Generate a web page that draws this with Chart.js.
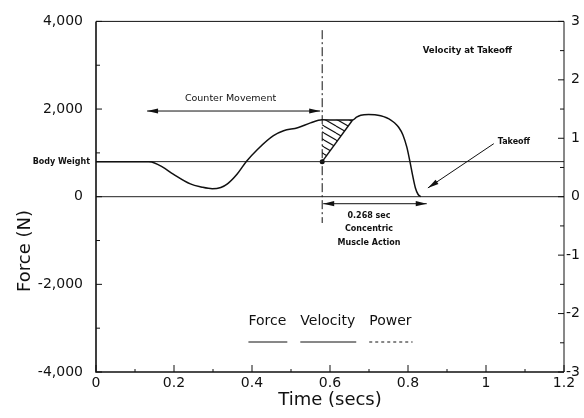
<!DOCTYPE html>
<html>
<head>
<meta charset="utf-8">
<script src="https://cdn.jsdelivr.net/npm/chart.js@4/dist/chart.umd.min.js"></script>
<style>
  html, body { margin: 0; padding: 0; background: #fff; overflow: hidden; }
  #wrap { width: 584px; height: 418px; position: relative; }
</style>
</head>
<body>
<div id="wrap"><canvas id="jump" width="584" height="418"></canvas></div>
<script>
// Countermovement jump: vertical ground reaction force against time
const TIME  = [0, 0.05, 0.10, 0.135, 0.15, 0.17, 0.198, 0.242, 0.27, 0.298, 0.32, 0.337, 0.362, 0.386, 0.414, 0.455, 0.481, 0.517, 0.550, 0.58, 0.62, 0.658, 0.668, 0.679, 0.699, 0.715, 0.730, 0.745, 0.756, 0.766, 0.776, 0.787, 0.797, 0.805, 0.812, 0.819, 0.826, 0.833];
const FORCE = [800, 800, 800, 795, 770, 680, 517, 292, 222, 182, 210, 292, 517, 809, 1079, 1393, 1505, 1573, 1685, 1753, 1748, 1750, 1815, 1860, 1875, 1868, 1845, 1800, 1750, 1680, 1585, 1410, 1130, 800, 480, 200, 50, 0];
const VELOCITY = [];
const POWER = [];

const BODY_WEIGHT = 800;
const CONCENTRIC_START = 0.58;
const CONCENTRIC_DURATION = 0.268;
const TAKEOFF_TIME = 0.833;
const COUNTER_START = 0.131;

// rise of force from body weight at the start of the concentric phase
const DIAG_T = [0.58, 0.658];
const DIAG_F = [800, 1750];

const X_TICK_LABELS = ['0', '0.2', '0.4', '0.6', '0.8', '1', '1.2'];
const LEGEND_ITEMS = ['Force', 'Velocity', 'Power'];

const FONT = '"DejaVu Sans", sans-serif';
const INK = '#111';

const pts = (xs, ys) => xs.map((x, i) => ({ x, y: ys[i] }));

function hatchPattern() {
  const w = 12, h = 7;
  const c = document.createElement('canvas');
  c.width = w; c.height = h;
  const g = c.getContext('2d');
  g.strokeStyle = INK;
  g.lineWidth = 1.1;
  for (const k of [-1, 0, 1]) {
    g.beginPath();
    g.moveTo(0, k * h);
    g.lineTo(w, h + k * h);
    g.stroke();
  }
  return g.createPattern(c, 'repeat');
}

function arrowHead(ctx, x1, y1, x2, y2, len, half) {
  const a = Math.atan2(y2 - y1, x2 - x1);
  const c = Math.cos(a), s = Math.sin(a);
  ctx.beginPath();
  ctx.moveTo(x2, y2);
  ctx.lineTo(x2 - len * c + half * s, y2 - len * s - half * c);
  ctx.lineTo(x2 - len * c - half * s, y2 - len * s + half * c);
  ctx.closePath();
  ctx.fill();
}

function arrow(ctx, x1, y1, x2, y2, both) {
  ctx.beginPath();
  ctx.moveTo(x1, y1);
  ctx.lineTo(x2, y2);
  ctx.stroke();
  arrowHead(ctx, x1, y1, x2, y2, 11, 2.6);
  if (both) arrowHead(ctx, x2, y2, x1, y1, 11, 2.6);
}

// frame, inward tick marks, arrows, notes and legend
const decorations = {
  id: 'decorations',
  afterDatasetsDraw(chart) {
    const { ctx, chartArea: a, scales } = chart;
    const { x, y, y2 } = scales;
    ctx.save();
    ctx.strokeStyle = INK;
    ctx.fillStyle = INK;

    // frame
    ctx.lineWidth = 1;
    ctx.beginPath();
    ctx.moveTo(a.left, a.top); ctx.lineTo(a.right, a.top);
    ctx.moveTo(a.right, a.top); ctx.lineTo(a.right, a.bottom);
    ctx.stroke();
    ctx.lineWidth = 1.6;
    ctx.beginPath();
    ctx.moveTo(a.left, a.top); ctx.lineTo(a.left, a.bottom); ctx.lineTo(a.right, a.bottom);
    ctx.stroke();

    // inward ticks
    ctx.lineWidth = 1;
    ctx.beginPath();
    y.ticks.forEach(t => {
      const p = y.getPixelForValue(t.value);
      const len = t.value % 2000 === 0 ? 6 : 4;
      ctx.moveTo(a.left, p); ctx.lineTo(a.left + len, p);
    });
    y2.ticks.forEach(t => {
      const p = y2.getPixelForValue(t.value);
      const len = Number.isInteger(t.value) ? 6 : 4;
      ctx.moveTo(a.right, p); ctx.lineTo(a.right - len, p);
    });
    x.ticks.forEach(t => {
      const p = x.getPixelForValue(t.value);
      const len = Math.round(t.value * 10) % 2 === 0 ? 7 : 3;
      ctx.moveTo(p, a.bottom); ctx.lineTo(p, a.bottom - len);
    });
    ctx.stroke();

    // body weight label at the left axis
    ctx.font = 'bold 8px ' + FONT;
    ctx.textAlign = 'right';
    ctx.textBaseline = 'middle';
    ctx.fillText('Body Weight', a.left - 6, y.getPixelForValue(BODY_WEIGHT));

    // counter movement arrow
    ctx.lineWidth = 1;
    const cmY = y.getPixelForValue(1955);
    arrow(ctx, x.getPixelForValue(COUNTER_START), cmY, x.getPixelForValue(CONCENTRIC_START) - 2, cmY, true);
    ctx.font = '9.5px ' + FONT;
    ctx.textAlign = 'center';
    ctx.fillText('Counter Movement', x.getPixelForValue(0.345), y.getPixelForValue(2230));

    // concentric duration arrow
    const dY = y.getPixelForValue(-160);
    arrow(ctx, x.getPixelForValue(CONCENTRIC_START + CONCENTRIC_DURATION), dY, x.getPixelForValue(CONCENTRIC_START) + 1, dY, true);
    ctx.font = 'bold 8px ' + FONT;
    const cx = x.getPixelForValue(0.70);
    ctx.fillText(CONCENTRIC_DURATION.toFixed(3) + ' sec', cx, y.getPixelForValue(-450));
    ctx.fillText('Concentric', cx, y.getPixelForValue(-745));
    ctx.fillText('Muscle Action', cx, y.getPixelForValue(-1060));

    // takeoff pointer
    arrow(ctx, x.getPixelForValue(1.02), y.getPixelForValue(1210), x.getPixelForValue(TAKEOFF_TIME + 0.018), y.getPixelForValue(200), false);
    ctx.textAlign = 'left';
    ctx.fillText('Takeoff', x.getPixelForValue(1.03), y.getPixelForValue(1240));
    ctx.textAlign = 'center';
    ctx.font = 'bold 8.6px ' + FONT;
    ctx.fillText('Velocity at Takeoff', x.getPixelForValue(0.952), y.getPixelForValue(3330));

    // legend: label above, line sample below
    ctx.font = '14px ' + FONT;
    const gap = 14;
    const items = LEGEND_ITEMS.map(name => chart.data.datasets.find(d => d.label === name));
    const widths = items.map(d => ctx.measureText(d.label).width);
    const total = widths.reduce((s, w) => s + w, 0) + gap * (items.length - 1);
    let lx = (a.left + a.right) / 2 - total / 2;
    const ty = a.bottom - 51, ly = a.bottom - 30;
    items.forEach((d, i) => {
      ctx.textAlign = 'left';
      ctx.fillText(d.label, lx, ty);
      ctx.save();
      ctx.lineWidth = 1;
      ctx.setLineDash(d.borderDash || []);
      ctx.beginPath();
      ctx.moveTo(lx, ly); ctx.lineTo(lx + widths[i] + 1, ly);
      ctx.stroke();
      ctx.restore();
      lx += widths[i] + gap;
    });

    // y axis title
    ctx.save();
    ctx.translate(25, 251);
    ctx.rotate(-Math.PI / 2);
    ctx.font = '18px ' + FONT;
    ctx.textAlign = 'center';
    ctx.textBaseline = 'middle';
    ctx.fillText('Force (N)', 0, 0);
    ctx.restore();

    ctx.restore();
  }
};

const lineBase = { pointRadius: 0, fill: false, borderColor: INK, tension: 0 };
const noGrid = { display: false, drawTicks: false, tickLength: 0 };

new Chart(document.getElementById('jump'), {
  type: 'line',
  data: {
    datasets: [
      { ...lineBase, label: 'Force', data: pts(TIME, FORCE), borderWidth: 1.5, cubicInterpolationMode: 'monotone' },
      { ...lineBase, label: 'Velocity', yAxisID: 'y2', data: VELOCITY, borderWidth: 1 },
      { ...lineBase, label: 'Power', yAxisID: 'y2', data: POWER, borderWidth: 1, borderDash: [3, 3] },
      { ...lineBase, label: 'Body weight', data: pts([0, 1.2], [BODY_WEIGHT, BODY_WEIGHT]), borderWidth: 1, borderColor: '#222' },
      { ...lineBase, label: 'Zero', data: pts([0, 1.2], [0, 0]), borderWidth: 1, borderColor: '#222' },
      { ...lineBase, label: 'Concentric start', data: pts([CONCENTRIC_START, CONCENTRIC_START], [3800, -600]), borderWidth: 1, borderDash: [9, 3, 2, 3] },
      { ...lineBase, label: 'Impulse', data: pts([DIAG_T[0], DIAG_T[1], DIAG_T[0]], [DIAG_F[0], DIAG_F[1], FORCE[TIME.indexOf(CONCENTRIC_START)]]), borderWidth: 0, fill: 'shape', backgroundColor: hatchPattern() },
      { ...lineBase, label: 'Rise', data: pts(DIAG_T, DIAG_F), borderWidth: 1.4 },
      { ...lineBase, label: 'Start point', data: pts([CONCENTRIC_START], [BODY_WEIGHT]), pointRadius: 2.5, pointBackgroundColor: INK, pointBorderWidth: 0, showLine: false }
    ]
  },
  options: {
    responsive: false,
    animation: false,
    devicePixelRatio: 1,
    layout: { padding: { top: 17, left: 0, right: 4, bottom: 0 } },
    plugins: { legend: { display: false }, tooltip: { enabled: false } },
    scales: {
      x: {
        type: 'linear', min: 0, max: 1.2,
        afterFit: s => { s.height = 46; },
        grid: noGrid, border: { display: false },
        ticks: {
          stepSize: 0.1, autoSkip: false, maxRotation: 0, padding: 3, color: INK,
          font: { family: FONT, size: 14 },
          callback: v => { const k = Math.round(v * 10); return k % 2 === 0 ? X_TICK_LABELS[k / 2] : ''; }
        },
        title: { display: true, text: 'Time (secs)', color: INK, font: { family: FONT, size: 18 }, padding: { top: 0, bottom: 7 } }
      },
      y: {
        min: -4000, max: 4000,
        afterFit: s => { s.width = 96; },
        grid: noGrid, border: { display: false },
        ticks: {
          stepSize: 1000, autoSkip: false, padding: 13, color: INK,
          font: { family: FONT, size: 14 },
          callback: v => v % 2000 === 0 ? v.toLocaleString('en-US') : ''
        }
      },
      y2: {
        position: 'right', min: -3, max: 3,
        afterFit: s => { s.width = 16; },
        grid: noGrid, border: { display: false },
        ticks: {
          stepSize: 0.5, autoSkip: false, padding: 2, crossAlign: 'far', color: INK,
          font: { family: FONT, size: 14 },
          callback: v => Number.isInteger(v) ? String(v) : ''
        }
      }
    }
  },
  plugins: [decorations]
});
</script>
</body>
</html>
